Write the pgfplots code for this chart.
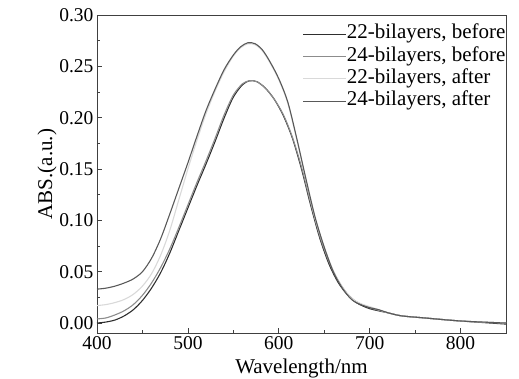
\documentclass[border=0pt]{standalone}
\usepackage{fontspec}
\setmainfont{Liberation Serif}
\usepackage{pgfplots}
\pgfplotsset{compat=1.18}
\definecolor{cA}{gray}{0.18}
\definecolor{cB}{gray}{0.55}
\definecolor{cC}{gray}{0.85}
\definecolor{cD}{gray}{0.35}
\begin{document}
\begin{tikzpicture}
\begin{axis}[name=ax,
  scale only axis, width=409bp, height=318bp,
  xmin=400, xmax=850, ymin=-0.0097, ymax=0.30,
  xtick={400,500,...,800}, ytick={0,0.05,...,0.30},
  minor x tick num=1, minor y tick num=1,
  tick pos=left, tick align=inside,
  major tick length=5bp, minor tick length=3bp,
  axis line style={draw=black!75, line width=0.8pt},
  every tick/.style={black!75, line width=0.7pt},
  /pgf/number format/assume math mode=true,
  yticklabel style={/pgf/number format/.cd, fixed, fixed zerofill, precision=2},
  ticklabel style={font=\fontsize{19.5bp}{22bp}\selectfont},
  scaled y ticks=false,
  xlabel={Wavelength/nm}, ylabel={ABS.(a.u.)},
  label style={font=\fontsize{21bp}{24bp}\selectfont},
  xlabel style={yshift=-2bp},
  ylabel style={yshift=-4bp},
  legend cell align=left,
  legend style={at={(1.0,0.975)}, anchor=north east, draw=none, fill=none,
    font=\fontsize{21bp}{22bp}\selectfont, inner sep=0pt, row sep=0pt,
    nodes={inner sep=0.3bp, text height=15.5bp, text depth=6.2bp}},
  legend image code/.code={\draw[#1] (0bp,0bp) -- (43bp,0bp);},
  every axis plot/.append style={line width=1.1pt, smooth},
]
\addplot[cA] coordinates {(400,0.000)(410,0.001)(420,0.003)(430,0.007)(440,0.013)(450,0.022)(460,0.034)(470,0.049)(480,0.068)(490,0.090)(500,0.112)(510,0.134)(520,0.155)(530,0.177)(540,0.200)(550,0.220)(560,0.232)(568,0.236)(576,0.235)(585,0.229)(595,0.218)(605,0.202)(615,0.180)(625,0.150)(635,0.115)(645,0.083)(655,0.058)(665,0.040)(675,0.028)(685,0.020)(700,0.014)(720,0.010)(735,0.007)(760,0.005)(800,0.002)(850,-0.001)};
\addlegendentry{22-bilayers, before}
\addplot[cB] coordinates {(400,0.004)(410,0.005)(420,0.008)(430,0.012)(440,0.018)(450,0.027)(460,0.039)(470,0.054)(480,0.072)(490,0.093)(500,0.115)(510,0.137)(520,0.158)(530,0.180)(540,0.203)(550,0.222)(560,0.233)(568,0.236)(576,0.235)(585,0.229)(595,0.218)(605,0.203)(615,0.181)(625,0.152)(635,0.117)(645,0.085)(655,0.060)(665,0.042)(675,0.029)(685,0.021)(700,0.015)(720,0.010)(735,0.007)(760,0.005)(800,0.002)(850,0.000)};
\addlegendentry{24-bilayers, before}
\addplot[cC] coordinates {(400,0.017)(410,0.018)(420,0.020)(430,0.023)(440,0.028)(450,0.036)(460,0.048)(470,0.066)(480,0.090)(490,0.120)(500,0.150)(510,0.178)(520,0.204)(530,0.226)(540,0.245)(550,0.260)(558,0.268)(566,0.272)(574,0.271)(582,0.265)(590,0.254)(600,0.237)(610,0.214)(620,0.178)(630,0.139)(640,0.102)(650,0.074)(660,0.051)(670,0.035)(680,0.024)(690,0.019)(700,0.016)(710,0.013)(720,0.010)(735,0.007)(760,0.005)(800,0.002)(850,0.000)};
\addlegendentry{22-bilayers, after}
\addplot[cD] coordinates {(400,0.033)(410,0.034)(420,0.036)(430,0.039)(440,0.043)(450,0.050)(460,0.063)(470,0.082)(480,0.106)(490,0.131)(500,0.156)(510,0.182)(520,0.207)(530,0.228)(540,0.247)(550,0.261)(558,0.269)(566,0.273)(574,0.272)(582,0.266)(590,0.255)(600,0.238)(610,0.215)(620,0.179)(630,0.140)(640,0.103)(650,0.074)(660,0.050)(670,0.034)(680,0.023)(690,0.018)(700,0.015)(710,0.013)(720,0.010)(735,0.007)(760,0.005)(800,0.002)(850,0.000)};
\addlegendentry{24-bilayers, after}
\end{axis}
\pgfresetboundingbox
\path[use as bounding box] ([xshift=-97bp,yshift=-46bp]ax.south west) rectangle ([xshift=13bp,yshift=15bp]ax.north east);
\end{tikzpicture}
\end{document}
